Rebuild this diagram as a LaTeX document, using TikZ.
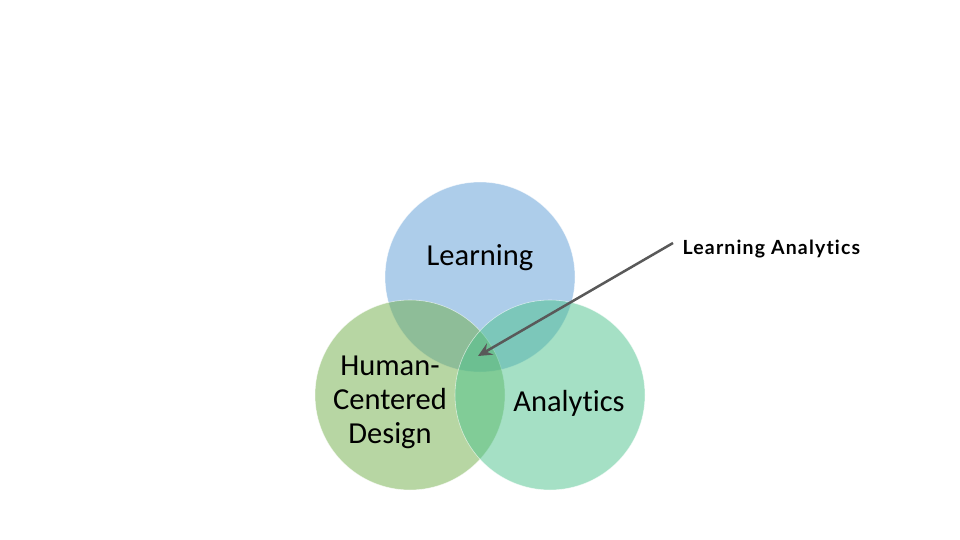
\documentclass[tikz,border=0pt]{standalone}
\usepackage{fontspec}
\setmainfont{Carlito}[Ligatures={NoCommon,NoContextual}, Contextuals={NoAlternate}]
\newfontfamily\labelfont{Lato}[LetterSpace=6, Ligatures={NoCommon,NoContextual}, Contextuals={NoAlternate}]
\usetikzlibrary{arrows.meta}

\definecolor{learnblue}{HTML}{5B9BD5}
\definecolor{hcdgreen}{HTML}{70AD47}
\definecolor{anateal}{HTML}{4CC28C}
\definecolor{arrowgray}{HTML}{595959}

\begin{document}
\begin{tikzpicture}[x=1pt,y=-1pt,
  set/.style={circle, minimum size=190pt, inner sep=0pt, fill opacity=.5, draw=white, draw opacity=.6, line width=.6pt},
  settext/.style={font=\fontsize{30.5}{34}\selectfont, align=center, text=black},
  callout/.style={font=\labelfont\bfseries\fontsize{19.5}{22}\selectfont, anchor=west, text=black},
  pointer/.style={draw=arrowgray, line width=2.5pt, -{Stealth[length=14pt, width=13pt, inset=5pt]}}]
  \useasboundingbox (0,0) rectangle (960,540);
  % Circles
  \node[set, fill=learnblue] (L) at (480,277) {};
  \node[set, fill=hcdgreen] (H) at (410,395) {};
  \node[set, fill=anateal] (A) at (550,395) {};
  % Labels
  \node[settext] (Ltext) at (480,258) {Learning};
  \node[settext] (Htext) at (390,402) {Human-\\Centered\\Design};
  \node[settext] (Atext) at (569,403) {Analytics};
  % Intersection callout
  \coordinate (C) at (478,356);
  \node[callout] (LA) at (679,249) {Learning Analytics};
  \draw[pointer] (LA.west) ++(-6,-6) coordinate (P) (P) -- (C);
\end{tikzpicture}
\end{document}
